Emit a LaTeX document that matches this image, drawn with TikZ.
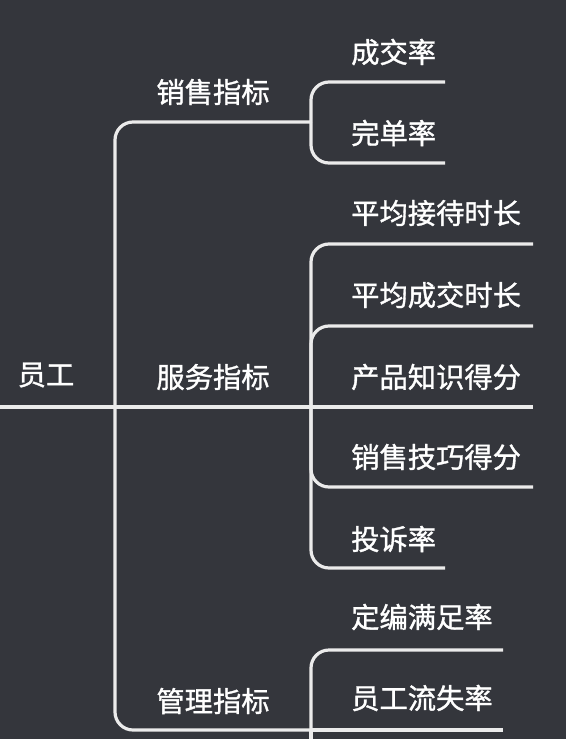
\documentclass[tikz,border=0pt]{standalone}
\usepackage{fontspec}
\setmainfont{Noto Sans CJK SC}[FakeBold=1.2]
\definecolor{bg}{RGB}{52,54,60}
\definecolor{ln}{RGB}{235,235,235}
\begin{document}
\begin{tikzpicture}[x=1pt,y=-1pt,
  conn/.style={draw=ln,line width=3.2pt,rounded corners=18pt},
  lbl/.style={text=white,font=\fontsize{28.3}{31}\selectfont,inner sep=0pt},
  leaf/.style={lbl,anchor=west}]
\useasboundingbox (0,0) rectangle (566,739);
\fill[bg] (0,0) rectangle (566,739);
\begin{scope}
\clip (0,0) rectangle (566,739);
% labels
\node[lbl] (root) at (46,375) {员工};
\node[lbl] (sales) at (213,92) {销售指标};
\node[lbl] (serv) at (213,377) {服务指标};
\node[lbl] (mgmt) at (213,701) {管理指标};
\node[leaf] (l1) at (351,52) {成交率};
\node[leaf] (l2) at (351,133) {完单率};
\node[leaf] (l3) at (351,213) {平均接待时长};
\node[leaf] (l4) at (351,295) {平均成交时长};
\node[leaf] (l5) at (351,377) {产品知识得分};
\node[leaf] (l6) at (351,457) {销售技巧得分};
\node[leaf] (l7) at (351,539) {投诉率};
\node[leaf] (l8) at (351,617) {定编满足率};
\node[leaf] (l9) at (351,698) {员工流失率};
% coordinates of lines
\coordinate (r0) at (-5,407);
\coordinate (r1) at (115,407);
\coordinate (s1) at (311,122);
\coordinate (f1) at (311,407);
\coordinate (m1) at (311,730);
\coordinate (e1) at (445,82);
\coordinate (e2) at (445,163);
\coordinate (e3) at (533,244);
\coordinate (e4) at (533,326);
\coordinate (e5) at (533,407);
\coordinate (e6) at (533,487);
\coordinate (e7) at (445,568);
\coordinate (e8) at (503,650);
\coordinate (e9) at (503,730);
\coordinate (m2) at (311,760);
% connectors
\draw[conn] (r0) -- (r1);
\draw[conn] (r1) |- (s1);
\draw[conn] (r1) -- (f1);
\draw[conn] (r1) |- (m1);
\draw[conn] (s1) |- (e1);
\draw[conn] (s1) |- (e2);
\draw[conn] (f1) |- (e3);
\draw[conn] (f1) |- (e4);
\draw[conn] (f1) -- (e5);
\draw[conn] (f1) |- (e6);
\draw[conn] (f1) |- (e7);
\draw[conn] (m1) |- (e8);
\draw[conn] (m1) -- (e9);
\draw[conn] (m1) -- (m2);
\end{scope}
\end{tikzpicture}
\end{document}
